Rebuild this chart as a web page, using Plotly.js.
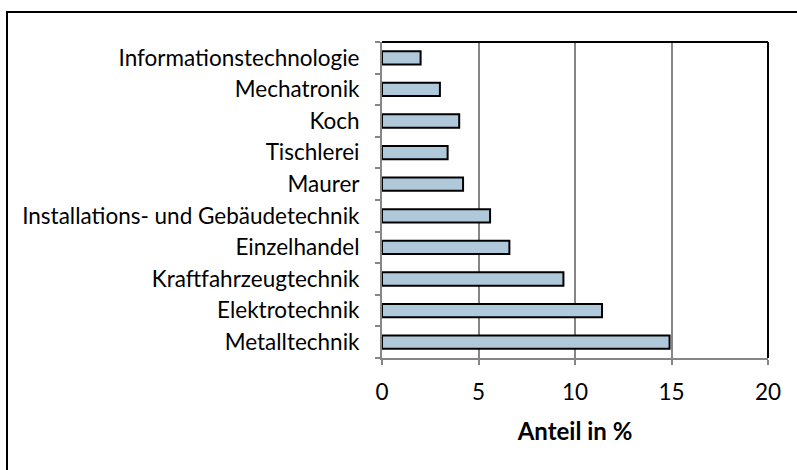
<!DOCTYPE html>
<html>
<head>
<meta charset="utf-8">
<script src="https://cdn.plot.ly/plotly-3.0.1.min.js"></script>
<style>html,body{margin:0;padding:0;background:#fff;}#chart{width:797px;height:470px;}</style>
</head>
<body>
<div id="chart"></div>
<script>
// Data (bottom to top)
const categories = ["Metalltechnik", "Elektrotechnik", "Kraftfahrzeugtechnik", "Einzelhandel",
  "Installations- und Gebäudetechnik", "Maurer", "Tischlerei", "Koch", "Mechatronik", "Informationstechnologie"];
const values = [14.9, 11.4, 9.4, 6.6, 5.6, 4.2, 3.4, 4.0, 3.0, 2.0];
const xTickValues = [0, 5, 10, 15, 20];
const xTitle = "Anteil in %";

const FONT = "Lato, 'Open Sans', sans-serif";
const trace = {
  type: "bar",
  orientation: "h",
  y: categories,
  x: values,
  marker: {color: "#B0C9DA", line: {color: "#000000", width: 2}},
  width: 0.42,
  hoverinfo: "x+y"
};

const W = 797, H = 470, L = 382, R = 29, T = 42, B = 112;
const pw = W - L - R, ph = H - T - B;
const px = v => (v - L) / pw;
const py = v => (H - B - v) / ph;

const layout = {
  width: W, height: H,
  margin: {l: L, r: R, t: T, b: B, pad: 0},
  paper_bgcolor: "#ffffff",
  plot_bgcolor: "#ffffff",
  font: {family: FONT, size: 22.5, color: "#000000"},
  showlegend: false,
  xaxis: {
    range: [0, 20],
    tickvals: xTickValues,
    ticktext: xTickValues.map(String),
    showgrid: true, gridcolor: "#868686", gridwidth: 2,
    zeroline: false,
    showline: true, linecolor: "#868686", linewidth: 2,
    ticks: "outside", ticklen: 5, tickwidth: 2, tickcolor: "#868686",
    ticklabelstandoff: 8,
    tickfont: {family: FONT, size: 22.5, color: "#000"},
    title: {text: "<b>" + xTitle + "</b>", font: {family: FONT, size: 24, color: "#000"}, standoff: 19},
    fixedrange: true
  },
  yaxis: {
    type: "category",
    showgrid: false, zeroline: false,
    showline: true, linecolor: "#868686", linewidth: 2,
    ticks: "outside", ticklen: 5, tickwidth: 2, tickcolor: "#868686",
    tickson: "boundaries",
    ticklabelstandoff: 16,
    tickfont: {family: FONT, size: 22.5, color: "#000"},
    fixedrange: true
  },
  shapes: [
    {type: "rect", xref: "paper", yref: "paper", x0: px(7), x1: px(805), y0: py(480), y1: py(12),
     line: {color: "#000000", width: 2}, fillcolor: "rgba(0,0,0,0)", layer: "below"},
    {type: "line", xref: "paper", yref: "paper", x0: 0, x1: 1, y0: 1, y1: 1, line: {color: "#000000", width: 2}, layer: "above"},
    {type: "line", xref: "paper", yref: "paper", x0: 1, x1: 1, y0: 0, y1: 1, line: {color: "#000000", width: 2}, layer: "above"}
  ]
};

Plotly.newPlot("chart", [trace], layout, {displayModeBar: false, staticPlot: true});
</script>
</body>
</html>
